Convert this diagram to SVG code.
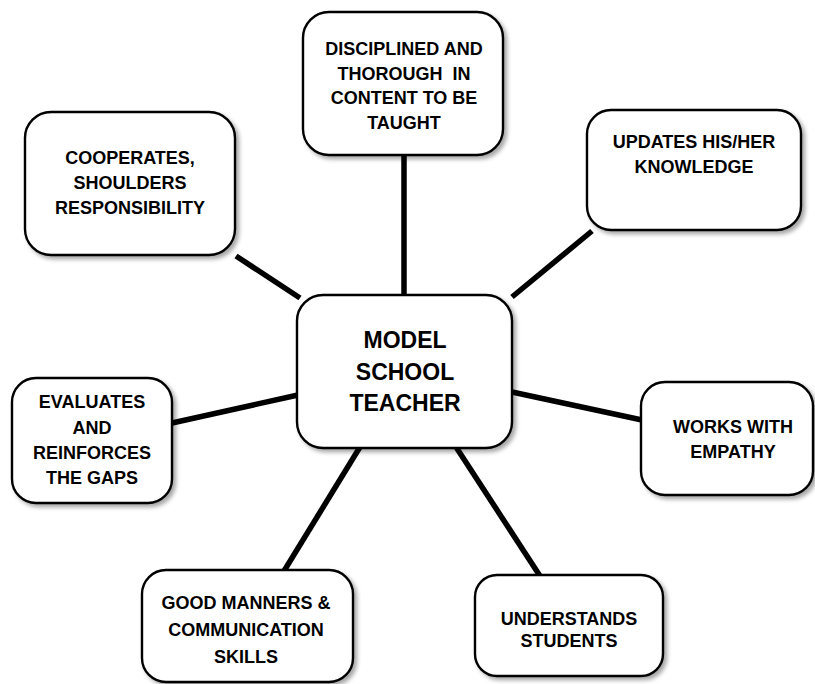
<svg xmlns="http://www.w3.org/2000/svg" width="815" height="684" viewBox="0 0 815 684">
<defs>
<filter id="sh" x="-10%" y="-10%" width="130%" height="130%">
<feDropShadow dx="3" dy="3" stdDeviation="2" flood-color="#000" flood-opacity="0.35"/>
</filter>
<style>
.box{fill:#fff;stroke:#000;stroke-width:2.4;filter:url(#sh)}
.t{font-family:"Liberation Sans",Arial,sans-serif;font-weight:bold;font-size:18px;text-anchor:middle;fill:#000}
.c{font-size:23px}
.ln{stroke:#000;stroke-width:5.5;stroke-linecap:butt;fill:none}
</style>
</defs>
<rect width="815" height="684" fill="#fff"/>
<g id="connectors">
<line class="ln" x1="404" y1="155" x2="404" y2="296"/>
<line class="ln" x1="236" y1="256" x2="300" y2="298"/>
<line class="ln" x1="592" y1="231" x2="512" y2="297"/>
<line class="ln" x1="172" y1="423" x2="298" y2="395"/>
<line class="ln" x1="512" y1="392" x2="642" y2="420"/>
<line class="ln" x1="360" y1="447" x2="284" y2="571"/>
<line class="ln" x1="456" y1="447" x2="540" y2="576"/>
</g>
<g id="center">
<rect class="box" x="297" y="295" width="215" height="153" rx="26"/>
<text class="t c" x="405" y="348">MODEL</text>
<text class="t c" x="405" y="380">SCHOOL</text>
<text class="t c" x="405" y="411">TEACHER</text>
</g>
<g id="n-disciplined">
<rect class="box" x="303" y="12" width="200" height="143" rx="26"/>
<text class="t" x="404" y="55">DISCIPLINED AND</text>
<text class="t" x="404" y="80" xml:space="preserve" style="white-space:pre">THOROUGH  IN</text>
<text class="t" x="404" y="104">CONTENT TO BE</text>
<text class="t" x="404" y="129">TAUGHT</text>
</g>
<g id="n-cooperates">
<rect class="box" x="25" y="112" width="210" height="143" rx="26"/>
<text class="t" x="130" y="164">COOPERATES,</text>
<text class="t" x="130" y="189">SHOULDERS</text>
<text class="t" x="130" y="214">RESPONSIBILITY</text>
</g>
<g id="n-updates">
<rect class="box" x="587" y="110" width="214" height="120" rx="24"/>
<text class="t" x="694" y="148">UPDATES HIS/HER</text>
<text class="t" x="694" y="173">KNOWLEDGE</text>
</g>
<g id="n-evaluates">
<rect class="box" x="12" y="378" width="160" height="125" rx="24"/>
<text class="t" x="92" y="408">EVALUATES</text>
<text class="t" x="92" y="434">AND</text>
<text class="t" x="92" y="459">REINFORCES</text>
<text class="t" x="92" y="484">THE GAPS</text>
</g>
<g id="n-works">
<rect class="box" x="641" y="382" width="172" height="113" rx="24"/>
<text class="t" x="733" y="433">WORKS WITH</text>
<text class="t" x="733" y="458">EMPATHY</text>
</g>
<g id="n-manners">
<rect class="box" x="142" y="570" width="211" height="112" rx="24"/>
<text class="t" x="246" y="609">GOOD MANNERS &amp;</text>
<text class="t" x="246" y="636">COMMUNICATION</text>
<text class="t" x="246" y="663">SKILLS</text>
</g>
<g id="n-understands">
<rect class="box" x="475" y="575" width="188" height="101" rx="22"/>
<text class="t" x="569" y="625">UNDERSTANDS</text>
<text class="t" x="569" y="647">STUDENTS</text>
</g>
</svg>
